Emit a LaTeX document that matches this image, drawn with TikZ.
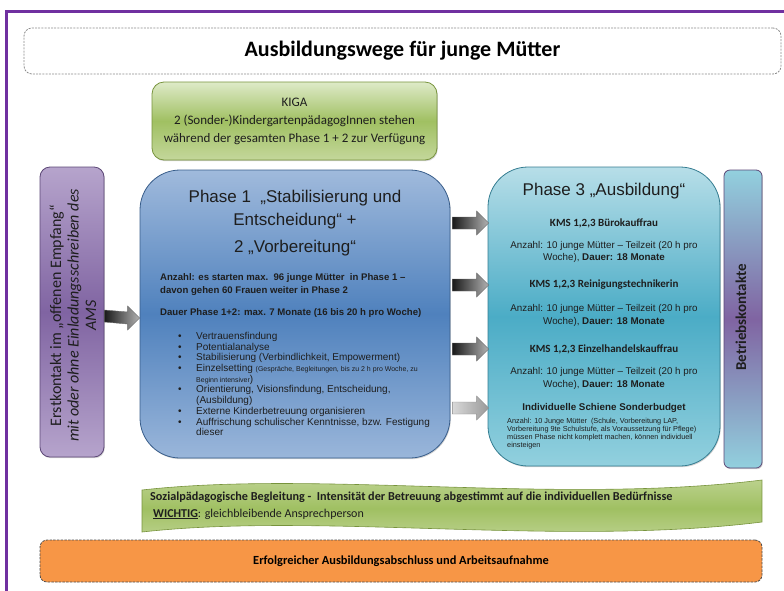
\documentclass[tikz,border=0pt]{standalone}
\usepackage{fontspec}
\setmainfont{Carlito}
\newfontfamily\arial{Liberation Sans}
\usetikzlibrary{calc,shadows}

% colours
\definecolor{framepurple}{RGB}{112,48,160}
\definecolor{txt}{RGB}{30,30,30}
\definecolor{kigaTop}{RGB}{222,234,200}
\definecolor{kigaMid}{RGB}{160,192,98}
\definecolor{kigaBot}{RGB}{196,215,155}
\definecolor{kigaLine}{RGB}{119,147,60}
\definecolor{blueTop}{RGB}{160,186,220}
\definecolor{blueMid}{RGB}{79,129,189}
\definecolor{blueBot}{RGB}{154,182,218}
\definecolor{blueLine}{RGB}{56,93,138}
\definecolor{tealTop}{RGB}{183,222,232}
\definecolor{tealMid}{RGB}{75,172,198}
\definecolor{tealBot}{RGB}{146,208,222}
\definecolor{tealLine}{RGB}{53,125,145}
\definecolor{lilaTop}{RGB}{182,164,204}
\definecolor{lilaMid}{RGB}{128,100,162}
\definecolor{lilaLine}{RGB}{92,71,118}
\definecolor{orangeFill}{RGB}{247,150,70}

\newcommand\bul{\makebox[18pt][l]{•}}
\newcommand\ind{\hspace*{18pt}}
\newcommand\smalltxt{\fontsize{7}{8}\selectfont}

% fat grey arrow between two named points
\newcommand\blockarrow[3][darkarrow]{%
  \shade[#1] ($(#2)+(0,-6)$) -- ($(#3)+(-12,-6)$) -- ($(#3)+(-12,-12)$) -- (#3)
    -- ($(#3)+(-12,12)$) -- ($(#3)+(-12,6)$) -- ($(#2)+(0,6)$) -- cycle;}

\begin{document}
\begin{tikzpicture}[x=1pt,y=-1pt,
  box/.style={draw, line width=0.8pt, inner sep=0pt,
    drop shadow={shadow xshift=0.8pt, shadow yshift=-1.2pt, opacity=0.35}},
  darkarrow/.style={left color=black!90, right color=black!30, draw=black!60, line width=0.4pt},
  lightarrow/.style={left color=black!15, right color=black!40, draw=black!45, line width=0.4pt},
  hd/.style={font=\arial\fontsize{17}{23}\selectfont, text=txt, align=center},
  kms/.style={font=\bfseries\fontsize{11}{12}\selectfont, text=txt},
  body/.style={font=\arial\fontsize{9.8}{12.7}\selectfont, text=txt, align=center},
  lbl/.style={text=txt, inner sep=0pt}]

  \useasboundingbox (0,0) rectangle (784,590);

  % purple frame
  \draw[framepurple, line width=3pt] (6.5,595) -- (6.5,11) -- (790,11);

  % title
  \node[draw=black!45, dash pattern=on 2pt off 1.2pt, line width=0.8pt, rounded corners=8pt,
    minimum width=757pt, minimum height=46pt] (title) at (402.5,51)
    {\fontsize{22}{26}\selectfont\bfseries Ausbildungswege für junge Mütter};

  % KIGA
  \node[box, draw=kigaLine, rounded corners=12pt, top color=kigaTop, bottom color=kigaBot,
    middle color=kigaMid, minimum width=285pt, minimum height=78pt] (kiga) at (294.5,121) {};
  \node[lbl, font=\fontsize{13}{18}\selectfont, align=center] (kigatext) at (294.5,121)
    {KIGA\\2 (Sonder-)KindergartenpädagogInnen stehen\\während der gesamten Phase 1 + 2 zur Verfügung};

  % Erstkontakt
  \node[box, draw=lilaLine, rounded corners=10pt, top color=lilaTop, bottom color=lilaTop,
    middle color=lilaMid, minimum width=64pt, minimum height=290pt] (erst) at (72,312) {};
  \node[lbl, rotate=90, font=\fontsize{16}{17.5}\selectfont, align=center] (ersttext) at (73,315.5)
    {Erstkontakt im „offenen Empfang“\\\textit{mit oder ohne Einladungsschreiben des}\\\textit{AMS}};

  % Phase 1 + 2
  \node[box, draw=blueLine, rounded corners=40pt, top color=blueTop, bottom color=blueBot,
    middle color=blueMid, minimum width=310pt, minimum height=288pt] (p1) at (295,314) {};
  \node[lbl, hd] (p1head) at (295,209.5) {Phase 1\ \ „Stabilisierung und\\Entscheidung“ +};
  \node[lbl, hd] (p1vor) at (295,248) {2 „Vorbereitung“};
  \node[lbl, anchor=west, font=\arial\bfseries\fontsize{9.6}{13}\selectfont, align=left] (p1anz) at (160,284.5)
    {Anzahl: es starten max.\ \ 96 junge Mütter\ \ in Phase 1 –\\davon gehen 60 Frauen weiter in Phase 2};
  \node[lbl, anchor=west, font=\arial\bfseries\fontsize{9.6}{13}\selectfont] (p1dauer) at (160,313)
    {Dauer Phase 1+2: max. 7 Monate (16 bis 20 h pro Woche)};
  \node[lbl, anchor=west, font=\arial\fontsize{10}{10.7}\selectfont, align=left] (p1list) at (178,384) {%
    \bul Vertrauensfindung\\
    \bul Potentialanalyse\\
    \bul Stabilisierung (Verbindlichkeit, Empowerment)\\
    \bul Einzelsetting {\smalltxt(Gespräche, Begleitungen, bis zu 2 h pro Woche, zu}\\
    \ind {\smalltxt Beginn intensiver})\\
    \bul Orientierung, Visionsfindung, Entscheidung,\\
    \ind (Ausbildung)\\
    \bul Externe Kinderbetreuung organisieren\\
    \bul Auffrischung schulischer Kenntnisse, bzw. Festigung\\
    \ind dieser};

  % Phase 3
  \node[box, draw=tealLine, rounded corners=40pt, top color=tealTop, bottom color=tealBot,
    middle color=tealMid, minimum width=232pt, minimum height=299pt] (p3) at (604,316.5) {};
  \node[lbl, hd] (p3head) at (604,191) {Phase 3 „Ausbildung“};
  \node[lbl, kms] (kms1) at (604,223) {KMS 1,2,3 Bürokauffrau};
  \node[lbl, body] (body1) at (604,252) {Anzahl: 10 junge Mütter – Teilzeit (20 h pro\\Woche), \textbf{Dauer: 18 Monate}};
  \node[lbl, kms] (kms2) at (604,285) {KMS 1,2,3 Reinigungstechnikerin};
  \node[lbl, body] (body2) at (604,315.5) {Anzahl: 10 junge Mütter – Teilzeit (20 h pro\\Woche), \textbf{Dauer: 18 Monate}};
  \node[lbl, kms] (kms3) at (604,349) {KMS 1,2,3 Einzelhandelskauffrau};
  \node[lbl, body] (body3) at (604,378.5) {Anzahl: 10 junge Mütter – Teilzeit (20 h pro\\Woche), \textbf{Dauer: 18 Monate}};
  \node[lbl, font=\arial\bfseries\fontsize{9.8}{10}\selectfont] (indiv) at (604,408) {Individuelle Schiene Sonderbudget};
  \node[lbl, anchor=west, font=\arial\fontsize{7.3}{8}\selectfont, align=left] (indivtext) at (507,434)
    {Anzahl: 10 Junge Mütter\ \ (Schule, Vorbereitung LAP,\\
     Vorbereitung 9te Schulstufe, als Voraussetzung für Pflege)\\
     müssen Phase nicht komplett machen, können individuell\\
     einsteigen};

  % Betriebskontakte
  \node[box, draw=lilaLine, rounded corners=6pt, top color=tealBot, bottom color=tealBot,
    middle color=lilaMid, minimum width=38pt, minimum height=298pt] (betrieb) at (743,319) {};
  \node[lbl, rotate=90, font=\bfseries\fontsize{15}{16}\selectfont] (betriebtext) at (741,317.5) {Betriebskontakte};

  % arrows
  \coordinate (a0s) at ([yshift=-4pt]erst.east);
  \coordinate (a0e) at ([yshift=-4pt]p1.west);
  \blockarrow{a0s}{a0e}
  \foreach \k/\sty in {kms1/darkarrow, kms2/darkarrow, kms3/darkarrow, indiv/lightarrow} {
    \coordinate (s-\k) at ([xshift=2pt]p1.east |- \k);
    \coordinate (e-\k) at ([xshift=1pt]p3.west |- \k);
    \blockarrow[\sty]{s-\k}{e-\k}
  }

  % Sozialpaedagogische Begleitung
  \shade[top color=kigaBot, bottom color=kigaBot, middle color=kigaMid, draw=kigaLine, line width=0.6pt]
    (142,490) .. controls (320,470) and (560,505) .. (762,480) -- (762,522)
    .. controls (560,547) and (320,512) .. (142,532) -- cycle;
  \node[lbl, anchor=west, font=\bfseries\fontsize{12.2}{14}\selectfont] (begl) at (150,497)
    {Sozialpädagogische Begleitung -\ \ Intensität der Betreuung abgestimmt auf die individuellen Bedürfnisse};
  \node[lbl, anchor=west, font=\fontsize{12}{14}\selectfont] (wichtig) at (153,514)
    {\textbf{\underline{WICHTIG}}: gleichbleibende Ansprechperson};

  % Abschluss
  \node[draw=black!70, dash pattern=on 2.5pt off 1.2pt, line width=0.8pt, rounded corners=7pt,
    fill=orangeFill, minimum width=722pt, minimum height=42pt] (ende) at (401,561)
    {\fontsize{12.4}{14}\selectfont\bfseries Erfolgreicher Ausbildungsabschluss und Arbeitsaufnahme};
\end{tikzpicture}
\end{document}
